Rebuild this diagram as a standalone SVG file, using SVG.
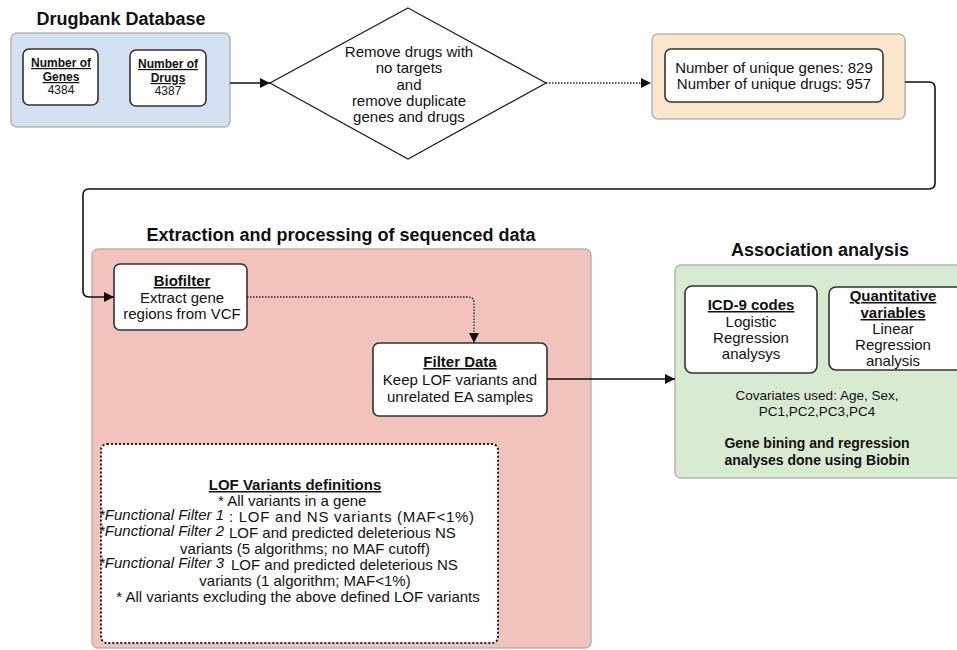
<svg xmlns="http://www.w3.org/2000/svg" width="957" height="650" viewBox="0 0 957 650">
<defs>
<marker id="arr" markerUnits="userSpaceOnUse" markerWidth="11" markerHeight="10" refX="10" refY="5" orient="auto">
<path d="M0,0 L10,5 L0,10 z" fill="#111"/>
</marker>
<style>
text{font-family:"Liberation Sans",Arial,sans-serif;fill:#111}
.t{font-size:18px;font-weight:bold;text-anchor:middle}
.n{font-size:15px;text-anchor:middle}
.b{font-size:15px;font-weight:bold;text-anchor:middle;text-decoration:underline}
.s{font-size:12px;text-anchor:middle}
.sb{font-size:12px;font-weight:bold;text-anchor:middle;text-decoration:underline}
.grp{stroke:#b5b5b5;stroke-width:1.5}
.wb{fill:#fff;stroke:#333;stroke-width:1.6}
.ln{fill:none;stroke:#111;stroke-width:1.6}
.dt{fill:none;stroke:#222;stroke-width:1.3;stroke-dasharray:1.5 1.5}
.l{font-size:15px}
.i{font-size:15px;font-style:italic}
</style>
</defs>

<g id="drugbank">
<text class="t" x="121" y="25">Drugbank Database</text>
<rect class="grp" x="11" y="33" width="219" height="94" rx="6" fill="#d3e1f2"/>
<rect class="wb" x="23" y="49" width="75" height="56" rx="6"/>
<text class="sb" x="61" y="67">Number of</text>
<text class="sb" x="61" y="81">Genes</text>
<text class="s" x="61" y="94">4384</text>
<rect class="wb" x="130" y="50" width="76" height="56" rx="6"/>
<text class="sb" x="168" y="68">Number of</text>
<text class="sb" x="168" y="82">Drugs</text>
<text class="s" x="168" y="95">4387</text>
</g>

<g id="filter-diamond">
<polygon points="408,8 546,83 408,159 270,83" fill="#fff" stroke="#222" stroke-width="1.3"/>
<text class="n" x="409" y="57">Remove drugs with</text>
<text class="n" x="409" y="73">no targets</text>
<text class="n" x="409" y="90">and</text>
<text class="n" x="409" y="106">remove duplicate</text>
<text class="n" x="409" y="122">genes and drugs</text>
</g>

<g id="unique">
<rect class="grp" x="652" y="34" width="253" height="85" rx="6" fill="#fce5cd"/>
<rect class="wb" x="665" y="49" width="218" height="53" rx="6"/>
<text class="n" x="774" y="73">Number of unique genes: 829</text>
<text class="n" x="774" y="89">Number of unique drugs: 957</text>
</g>

<g id="extraction">
<text class="t" x="341" y="241">Extraction and processing of sequenced data</text>
<rect class="grp" x="92" y="249" width="499" height="399" rx="6" fill="#f1c3bc"/>
</g>

<g id="biofilter">
<rect class="wb" x="114" y="264" width="133" height="66" rx="6"/>
<text class="b" x="182" y="286">Biofilter</text>
<text class="n" x="182" y="303">Extract gene</text>
<text class="n" x="182" y="319">regions from VCF</text>
</g>

<g id="filterdata">
<rect class="wb" x="373" y="343" width="174" height="73" rx="6"/>
<text class="b" x="460" y="367">Filter Data</text>
<text class="n" x="460" y="385">Keep LOF variants and</text>
<text class="n" x="460" y="402">unrelated EA samples</text>
</g>

<g id="lof">
<rect x="101" y="444" width="397" height="199" rx="6" fill="#fff" stroke="#222" stroke-width="2" stroke-dasharray="2 2"/>
<text class="b" x="295" y="490">LOF Variants definitions</text>
<text class="l" x="218" y="506">* All variants in a gene</text>
<text class="i" x="99" y="520">*Functional Filter 1</text>
<text class="l" x="229" y="522" textLength="245" lengthAdjust="spacing">: LOF and NS variants (MAF&lt;1%)</text>
<text class="i" x="99" y="536">*Functional Filter 2</text>
<text class="l" x="229" y="538">LOF and predicted deleterious NS</text>
<text class="n" x="305" y="554">variants (5 algorithms; no MAF cutoff)</text>
<text class="i" x="99" y="568">*Functional Filter 3</text>
<text class="l" x="231" y="570">LOF and predicted deleterious NS</text>
<text class="n" x="305" y="586">variants (1 algorithm; MAF&lt;1%)</text>
<text class="n" x="298" y="602">* All variants excluding the above defined LOF variants</text>
</g>

<g id="association">
<text class="t" x="820" y="256">Association analysis</text>
<rect class="grp" x="675" y="265" width="295" height="213" rx="6" fill="#d9ead3"/>
<text style="font-size:13.5px;text-anchor:middle" x="817" y="400">Covariates used: Age, Sex,</text>
<text style="font-size:13.5px;text-anchor:middle" x="817" y="416">PC1,PC2,PC3,PC4</text>
<text style="font-size:14px;font-weight:bold;text-anchor:middle" x="817" y="448">Gene bining and regression</text>
<text style="font-size:14px;font-weight:bold;text-anchor:middle" x="817" y="465">analyses done using Biobin</text>
</g>

<g id="icd9">
<rect class="wb" x="685" y="286" width="132" height="87" rx="7"/>
<text class="b" x="751" y="310">ICD-9 codes</text>
<text class="n" x="751" y="327">Logistic</text>
<text class="n" x="751" y="343">Regression</text>
<text class="n" x="751" y="359">analysys</text>
</g>

<g id="quantitative">
<rect class="wb" x="829" y="287" width="140" height="83" rx="7"/>
<text class="b" x="893" y="301">Quantitative</text>
<text class="b" x="893" y="318">variables</text>
<text class="n" x="893" y="334">Linear</text>
<text class="n" x="893" y="350">Regression</text>
<text class="n" x="893" y="366">analysis</text>
</g>

<g id="connectors">
<path class="ln" d="M230,83 H270" marker-end="url(#arr)"/>
<path class="dt" d="M546,83 H651" marker-end="url(#arr)"/>
<path class="ln" d="M905,82 H929 Q935,82 935,88 V183 Q935,189 929,189 H89 Q83,189 83,195 V291 Q83,297 89,297 H114" marker-end="url(#arr)"/>
<path class="dt" d="M247,297 H468 Q474,297 474,303 V343" marker-end="url(#arr)"/>
<path class="ln" d="M547,379 H675" marker-end="url(#arr)"/>
</g>
</svg>
